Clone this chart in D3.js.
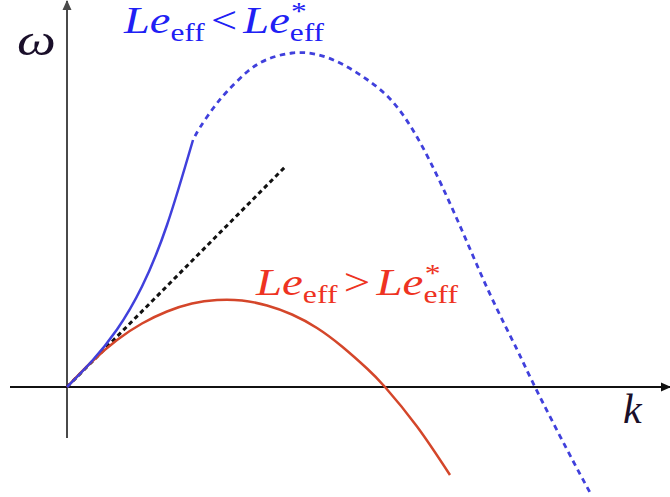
<!DOCTYPE html>
<html>
<head>
<meta charset="utf-8">
<script src="https://cdn.jsdelivr.net/npm/d3@7"></script>
<style>
  html, body { margin: 0; padding: 0; background: #fff; }
  svg { display: block; }
</style>
</head>
<body>
<svg id="chart" width="670" height="497"></svg>
<script>
// Dispersion relation sketch: growth rate ω versus wavenumber k
// Le_eff < Le*_eff branch, solid part near the origin
const blueSolidK     = [0, 0.5, 1, 1.5, 2, 2.52];
const blueSolidOmega = [0, 0.52, 1.15, 2.01, 3.24, 4.94];
// Le_eff < Le*_eff branch, dashed continuation
const blueDashK     = [2.52, 2.66, 2.92, 3.2, 3.6, 4, 4.5, 5, 5.5, 6, 6.5, 7, 7.5, 8, 8.5, 9, 9.36, 10, 10.46];
const blueDashOmega = [4.94, 5.19, 5.57, 5.91, 6.3, 6.55, 6.68, 6.65, 6.46, 6.15, 5.72, 5.0, 4.02, 2.9, 1.77, 0.75, 0, -1.25, -2.11];

// Le_eff > Le*_eff branch
const redK     = [0, 0.5, 1, 1.5, 2, 2.5, 3, 3.5, 4, 4.5, 5, 5.5, 6, 6.36, 7, 7.66];
const redOmega = [0, 0.51, 0.94, 1.27, 1.51, 1.67, 1.74, 1.73, 1.63, 1.45, 1.18, 0.81, 0.37, 0, -0.79, -1.76];

// tangent at the origin
const tangentK     = [0, 4.36];
const tangentOmega = [0, 4.4];

const axisKRange     = [-1.14, 12.06];
const axisOmegaRange = [-1.02, 7.72];

const svg = d3.select("#chart");

const x = d3.scaleLinear().domain([0, 1]).range([67, 117]);
const y = d3.scaleLinear().domain([0, 1]).range([387, 337]);

const zip = (ks, ws) => ks.map((k, i) => ({ k, w: ws[i] }));
const smooth = d3.line().x(d => x(d.k)).y(d => y(d.w)).curve(d3.curveNatural);
const straight = d3.line().x(d => x(d.k)).y(d => y(d.w));

// arrow heads
const defs = svg.append("defs");
function marker(id, color) {
  defs.append("marker")
    .attr("id", id)
    .attr("viewBox", "0 0 10 10")
    .attr("refX", 9).attr("refY", 5)
    .attr("markerWidth", 5).attr("markerHeight", 5)
    .attr("markerUnits", "strokeWidth")
    .attr("orient", "auto")
    .append("path").attr("d", "M0,0.5 L10,5 L0,9.5 Z").attr("fill", color);
}
marker("arrY", "#4a4a4a");
marker("arrX", "#111");

// axes
svg.append("line")
  .attr("x1", x(0)).attr("x2", x(0))
  .attr("y1", y(axisOmegaRange[0])).attr("y2", y(axisOmegaRange[1]))
  .attr("stroke", "#4a4a4a").attr("stroke-width", 2)
  .attr("marker-end", "url(#arrY)");
svg.append("line")
  .attr("x1", x(axisKRange[0])).attr("x2", x(axisKRange[1]))
  .attr("y1", y(0)).attr("y2", y(0))
  .attr("stroke", "#111").attr("stroke-width", 2)
  .attr("marker-end", "url(#arrX)");

// tangent line
svg.append("path")
  .datum(zip(tangentK, tangentOmega))
  .attr("d", straight)
  .attr("fill", "none").attr("stroke", "#111")
  .attr("stroke-width", 3).attr("stroke-dasharray", "4.5 3.5");

// red branch
svg.append("path")
  .datum(zip(redK, redOmega))
  .attr("d", smooth)
  .attr("fill", "none").attr("stroke", "#d4462a")
  .attr("stroke-width", 2.5);

// blue branch
svg.append("path")
  .datum(zip(blueSolidK, blueSolidOmega))
  .attr("d", smooth)
  .attr("fill", "none").attr("stroke", "#4040dc")
  .attr("stroke-width", 2.5);
svg.append("path")
  .datum(zip(blueDashK, blueDashOmega))
  .attr("d", smooth)
  .attr("fill", "none").attr("stroke", "#4040dc")
  .attr("stroke-width", 2.8)
  .attr("stroke-dasharray", "5.5 4.5")
  .attr("stroke-dashoffset", -4.5);

// labels: Le_eff < Le*_eff and Le_eff > Le*_eff
const serif = "Liberation Serif";
function mathLabel(color, left, baseline, width, relation) {
  const g = svg.append("g");
  let cx = 0;
  const fs = 37, sfs = 25;
  function piece(txt, opts) {
    const t = g.append("text")
      .attr("x", cx + (opts.dx || 0)).attr("y", opts.dy || 0)
      .attr("font-family", serif)
      .attr("font-size", opts.size)
      .attr("font-style", opts.italic ? "italic" : "normal")
      .attr("fill", color)
      .text(txt);
    return t.node().getComputedTextLength();
  }
  cx += piece("Le", { size: fs, italic: true });
  cx += piece("eff", { size: sfs, dy: 8 });
  cx += 5;
  cx += piece(relation, { size: fs });
  cx += 5;
  cx += piece("Le", { size: fs, italic: true });
  const w1 = piece("*", { size: sfs, dy: -13, dx: 1 });
  const w2 = piece("eff", { size: sfs, dy: 8 });
  cx += Math.max(w1, w2);
  const sx = width / cx;
  g.attr("transform", `translate(${left},${baseline}) scale(${sx},1)`);
}
mathLabel("#2020f4", 124, 33, 200, "<");
mathLabel("#ee3322", 256, 295, 202, ">");

// axis names
svg.append("text")
  .attr("font-family", serif)
  .attr("font-style", "italic")
  .attr("font-size", 44).attr("fill", "#1a0f2a")
  .attr("transform", "translate(17,55) scale(1.25,1)")
  .text("ω");
svg.append("text")
  .attr("font-family", serif)
  .attr("x", 623).attr("y", 423)
  .attr("font-style", "italic")
  .attr("font-size", 42).attr("fill", "#1a0f2a")
  .text("k");
</script>
</body>
</html>
